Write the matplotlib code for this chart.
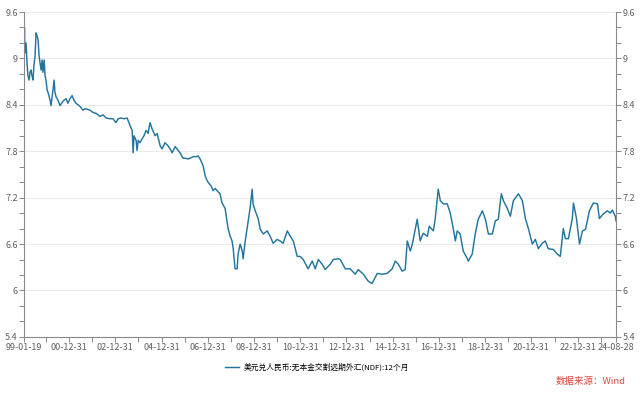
import matplotlib
matplotlib.use('Agg')
import matplotlib.pyplot as plt
from matplotlib.ticker import MultipleLocator, FixedLocator, FuncFormatter

plt.rcParams['font.family'] = ['Noto Sans CJK SC', 'DejaVu Sans']

# decimal year of each reading, and the NDF 12M quote (USD/CNY)
years = [1999.05, 1999.07, 1999.09, 1999.14, 1999.18, 1999.22, 1999.27, 1999.31, 1999.35, 1999.40,
         1999.44, 1999.48, 1999.53, 1999.57, 1999.61, 1999.66, 1999.70, 1999.74, 1999.79, 1999.83,
         1999.87, 1999.92, 1999.96, 2000.00, 2000.05, 2000.09, 2000.18, 2000.22, 2000.31, 2000.35,
         2000.39, 2000.44, 2000.52, 2000.61, 2000.70, 2000.78, 2000.87, 2000.95, 2001.04, 2001.13,
         2001.21, 2001.30, 2001.39, 2001.47, 2001.60, 2001.69, 2001.82, 2001.91, 2002.04, 2002.17,
         2002.34, 2002.47, 2002.60, 2002.77, 2002.90, 2003.03, 2003.12, 2003.25, 2003.38, 2003.51,
         2003.64, 2003.73, 2003.77, 2003.81, 2003.90, 2003.94, 2003.99, 2004.07, 2004.16, 2004.24,
         2004.33, 2004.42, 2004.50, 2004.59, 2004.72, 2004.81, 2004.94, 2005.02, 2005.15, 2005.28,
         2005.37, 2005.46, 2005.59, 2005.67, 2005.80, 2005.93, 2006.02, 2006.15, 2006.24, 2006.37,
         2006.50, 2006.58, 2006.67, 2006.80, 2006.89, 2006.97, 2007.06, 2007.15, 2007.23, 2007.32,
         2007.40, 2007.53, 2007.62, 2007.75, 2007.88, 2007.97, 2008.05, 2008.10, 2008.18, 2008.27,
         2008.31, 2008.40, 2008.49, 2008.53, 2008.62, 2008.75, 2008.83, 2008.92, 2008.96, 2009.05,
         2009.18, 2009.27, 2009.40, 2009.57, 2009.70, 2009.83, 2010.00, 2010.13, 2010.26, 2010.44,
         2010.57, 2010.70, 2010.87, 2011.00, 2011.13, 2011.34, 2011.52, 2011.65, 2011.78, 2011.95,
         2012.08, 2012.30, 2012.43, 2012.64, 2012.73, 2012.95, 2013.16, 2013.38, 2013.51, 2013.73,
         2013.94, 2014.11, 2014.33, 2014.55, 2014.76, 2014.98, 2015.11, 2015.24, 2015.41, 2015.54,
         2015.63, 2015.76, 2015.85, 2015.98, 2016.06, 2016.19, 2016.32, 2016.50, 2016.58, 2016.76,
         2016.84, 2016.97, 2017.06, 2017.19, 2017.36, 2017.49, 2017.62, 2017.71, 2017.79, 2017.92,
         2018.05, 2018.23, 2018.27, 2018.44, 2018.57, 2018.70, 2018.88, 2019.01, 2019.14, 2019.31,
         2019.44, 2019.57, 2019.66, 2019.70, 2019.79, 2019.96, 2020.09, 2020.22, 2020.44, 2020.61,
         2020.74, 2020.87, 2021.04, 2021.17, 2021.30, 2021.47, 2021.60, 2021.73, 2021.95, 2022.12,
         2022.25, 2022.38, 2022.47, 2022.60, 2022.77, 2022.82, 2022.95, 2023.08, 2023.21, 2023.34,
         2023.51, 2023.68, 2023.86, 2023.94, 2024.11, 2024.29, 2024.42, 2024.50, 2024.63, 2024.66]
ndf = [9.11, 9.40, 9.07, 9.20, 8.94, 8.78, 8.72, 8.82, 8.85, 8.77,
       8.72, 8.91, 9.04, 9.33, 9.30, 9.24, 9.04, 8.95, 8.85, 8.98,
       8.82, 8.98, 8.78, 8.72, 8.59, 8.56, 8.46, 8.39, 8.61, 8.72,
       8.56, 8.50, 8.46, 8.39, 8.43, 8.46, 8.48, 8.42, 8.48, 8.52,
       8.46, 8.42, 8.40, 8.38, 8.33, 8.35, 8.34, 8.33, 8.30, 8.29,
       8.25, 8.27, 8.23, 8.22, 8.22, 8.17, 8.22, 8.23, 8.22, 8.23,
       8.13, 8.07, 7.78, 8.00, 7.94, 7.81, 7.94, 7.91, 7.96, 8.00,
       8.07, 8.03, 8.17, 8.09, 8.00, 8.03, 7.87, 7.83, 7.91, 7.87,
       7.83, 7.78, 7.86, 7.83, 7.78, 7.71, 7.71, 7.70, 7.71, 7.73,
       7.73, 7.74, 7.70, 7.61, 7.48, 7.42, 7.38, 7.35, 7.29, 7.32,
       7.29, 7.25, 7.13, 7.06, 6.80, 6.70, 6.64, 6.54, 6.28, 6.28,
       6.47, 6.60, 6.51, 6.41, 6.64, 6.90, 7.06, 7.31, 7.12, 7.03,
       6.93, 6.79, 6.73, 6.77, 6.70, 6.61, 6.66, 6.64, 6.61, 6.77,
       6.70, 6.64, 6.44, 6.44, 6.40, 6.28, 6.38, 6.28, 6.40, 6.34,
       6.27, 6.34, 6.40, 6.41, 6.40, 6.28, 6.28, 6.21, 6.27, 6.21,
       6.12, 6.09, 6.22, 6.21, 6.22, 6.28, 6.38, 6.34, 6.25, 6.27,
       6.64, 6.51, 6.60, 6.80, 6.92, 6.64, 6.74, 6.70, 6.83, 6.77,
       6.93, 7.31, 7.16, 7.12, 7.12, 7.00, 6.80, 6.64, 6.77, 6.73,
       6.51, 6.41, 6.38, 6.47, 6.73, 6.92, 7.03, 6.92, 6.73, 6.73,
       6.90, 6.92, 7.16, 7.25, 7.16, 7.06, 6.96, 7.16, 7.25, 7.16,
       6.93, 6.80, 6.60, 6.66, 6.54, 6.61, 6.64, 6.54, 6.53, 6.47,
       6.44, 6.80, 6.67, 6.67, 6.93, 7.13, 6.93, 6.60, 6.77, 6.79,
       7.03, 7.13, 7.12, 6.93, 6.99, 7.03, 7.00, 7.04, 6.96, 6.90]

date_ticks = [1999.05, 2001.0, 2003.0, 2005.0, 2007.0, 2009.0, 2011.0, 2013.0, 2015.0,
              2017.0, 2019.0, 2021.0, 2023.0, 2024.66]
date_labels = ['99-01-19', '00-12-31', '02-12-31', '04-12-31', '06-12-31', '08-12-31', '10-12-31',
               '12-12-31', '14-12-31', '16-12-31', '18-12-31', '20-12-31', '22-12-31', '24-08-28']
minor_dates = [2000.0, 2002.0, 2004.0, 2006.0, 2008.0, 2010.0, 2012.0, 2014.0, 2016.0,
               2018.0, 2020.0, 2022.0, 2024.0]

series_name = '美元兑人民币:无本金交割远期外汇(NDF):12个月'

fig = plt.figure(figsize=(6.4, 3.94), dpi=100)
ax = fig.add_axes([0.0375, 0.145, 0.925, 0.8245])
ax.plot(years, ndf, color='#23759e', linewidth=1.05, label=series_name)

ax.set_xlim(1999.05, 2024.66)
ax.set_ylim(5.4, 9.6)
ax.yaxis.set_major_locator(MultipleLocator(0.6))
ax.yaxis.set_minor_locator(MultipleLocator(0.2))
ax.yaxis.set_major_formatter(FuncFormatter(lambda v, p: '%g' % round(v, 1)))
ax.xaxis.set_major_locator(FixedLocator(date_ticks))
ax.xaxis.set_minor_locator(FixedLocator(minor_dates))
ax.set_xticklabels(date_labels)
ax.grid(axis='y', color='#e6e6e6', linewidth=0.6)

ax2 = ax.twinx()
ax2.set_ylim(ax.get_ylim())
ax2.yaxis.set_major_locator(MultipleLocator(0.6))
ax2.yaxis.set_minor_locator(MultipleLocator(0.2))
ax2.yaxis.set_major_formatter(FuncFormatter(lambda v, p: '%g' % round(v, 1)))

for a in (ax, ax2):
    a.spines['top'].set_visible(False)
    for s in ('left', 'right', 'bottom'):
        a.spines[s].set_color('#888888')
        a.spines[s].set_linewidth(0.8)
    a.tick_params(which='both', colors='#888888', labelcolor='#606060', labelsize=6.5,
                  length=3.5, width=0.7, pad=1)
ax.spines['right'].set_visible(False)
ax2.spines['left'].set_visible(False)
ax2.spines['bottom'].set_visible(False)

fig.legend(loc='center', bbox_to_anchor=(0.495, 0.068), frameon=False, fontsize=5.6,
           handlelength=1.8, handletextpad=0.6)
fig.text(0.977, 0.033, '数据来源：Wind', ha='right', va='center', color='#e0463c', fontsize=6.8)

fig.savefig('out.png', dpi=100)
